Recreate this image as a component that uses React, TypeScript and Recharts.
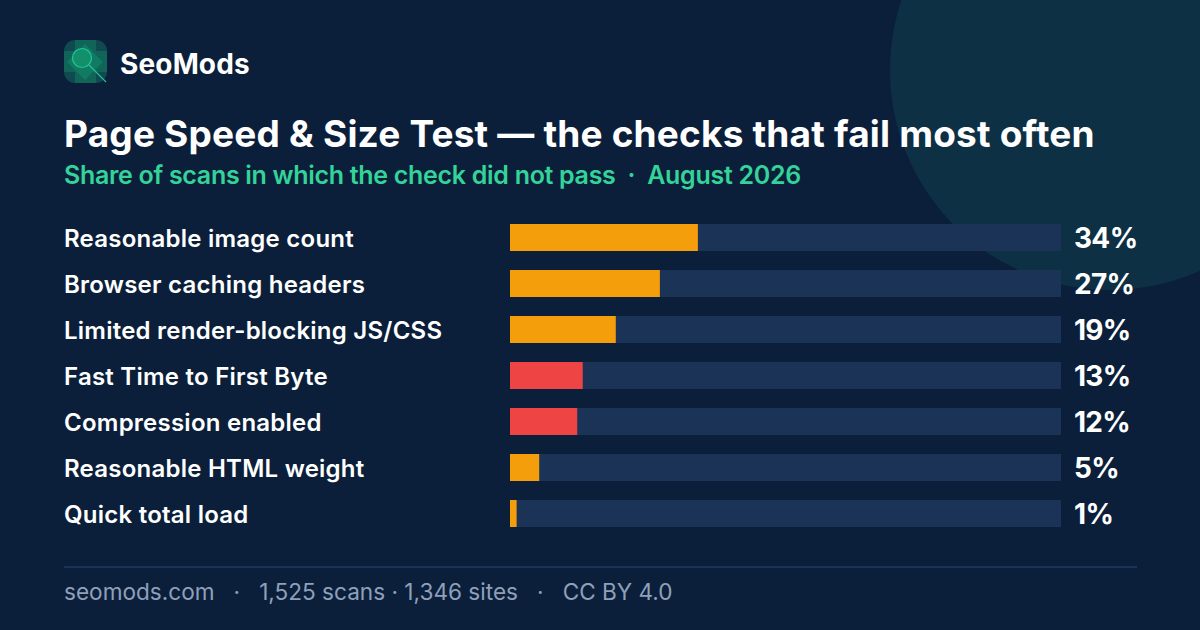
import { Bar, BarChart, Cell, LabelList, XAxis, YAxis } from "recharts";

const checks = [
  "Reasonable image count",
  "Browser caching headers",
  "Limited render-blocking JS/CSS",
  "Fast Time to First Byte",
  "Compression enabled",
  "Reasonable HTML weight",
  "Quick total load",
];
const failShare = [34.1, 27.2, 19.2, 13.2, 12.2, 5.3, 1.2];
const barColors = ["#f59e0b", "#f59e0b", "#f59e0b", "#ef4444", "#ef4444", "#f59e0b", "#f59e0b"];

const rows = checks.map((name, i) => ({ name, value: failShare[i] }));

const font = "Inter, sans-serif";

function CheckTick({ y, payload }: any) {
  return (
    <text x={64} y={y} dy={9.5} fill="#ffffff" fontFamily={font} fontSize={24} fontWeight={600} letterSpacing={0.24}>
      {payload.value}
    </text>
  );
}

function ValueLabel({ y, height, value }: any) {
  return (
    <text x={1074} y={y + height / 2} dy={10} fill="#ffffff" fontFamily={font} fontSize={28} fontWeight={700} letterSpacing={-0.7}>
      {Math.round(value)}%
    </text>
  );
}

function Logo() {
  return (
    <svg width={46} height={46} style={{ position: "absolute", left: 63, top: 39 }}>
      <rect x={1} y={1} width={43} height={43} rx={11} fill="#0e4a50" />
      <rect x={12} y={1} width={21} height={43} fill="#106458" />
      <rect x={1} y={12} width={43} height={21} fill="#106458" />
      <polygon points="22,5 40,23 22,41 4,23" fill="#117a62" />
      <circle cx={19} cy={19} r={9.5} fill="#12906c" stroke="#22c594" strokeWidth={1.2} />
      <line x1={26} y1={26} x2={43} y2={43} stroke="#22c594" strokeWidth={1.1} />
    </svg>
  );
}

export default function App() {
  return (
    <div style={{ position: "fixed", left: 0, top: 0, width: 1200, height: 630, overflow: "hidden", background: "#0b1f3a", fontFamily: font }}>
      <div style={{ position: "absolute", left: 890, top: -150, width: 440, height: 440, borderRadius: "50%", background: "#0d3045" }} />
      <Logo />
      <div style={{ position: "absolute", left: 120, top: 46, fontSize: 28, lineHeight: "36px", fontWeight: 700, color: "#fff", letterSpacing: 0.15 }}>
        SeoMods
      </div>
      <div style={{ position: "absolute", left: 64, top: 112, fontSize: 37, lineHeight: "44px", fontWeight: 700, color: "#fff", letterSpacing: 0.19, whiteSpace: "nowrap" }}>
        Page Speed &amp; Size Test — the checks that fail most often
      </div>
      <div style={{ position: "absolute", left: 64, top: 159, fontSize: 25, lineHeight: "32px", fontWeight: 600, color: "#34d399", letterSpacing: -0.3, whiteSpace: "pre" }}>
        {"Share of scans in which the check did not pass  ·  August 2026"}
      </div>

      <div style={{ position: "absolute", left: 0, top: 0 }}>
        <BarChart
          width={1200}
          height={630}
          data={rows}
          layout="vertical"
          barSize={27}
          margin={{ top: 214, right: 139, bottom: 94, left: 64 }}
          style={{ background: "transparent" }}
        >
          <XAxis type="number" domain={[0, 100]} hide />
          <YAxis type="category" dataKey="name" width={446} axisLine={false} tickLine={false} tick={<CheckTick />} interval={0} />
          <Bar dataKey="value" background={{ fill: "#1b3356" }} isAnimationActive={false}>
            {rows.map((r, i) => (
              <Cell key={r.name} fill={barColors[i]} />
            ))}
            <LabelList dataKey="value" content={<ValueLabel />} />
          </Bar>
        </BarChart>
      </div>

      <div style={{ position: "absolute", left: 64, top: 566, width: 1073, height: 2, background: "#1b3356" }} />
      <div style={{ position: "absolute", left: 64, top: 578, fontSize: 22.6, lineHeight: "28px", color: "#8fa0ba", whiteSpace: "pre" }}>
        {"seomods.com   ·   1,525 scans · 1,346 sites   ·   CC BY 4.0"}
      </div>
    </div>
  );
}
